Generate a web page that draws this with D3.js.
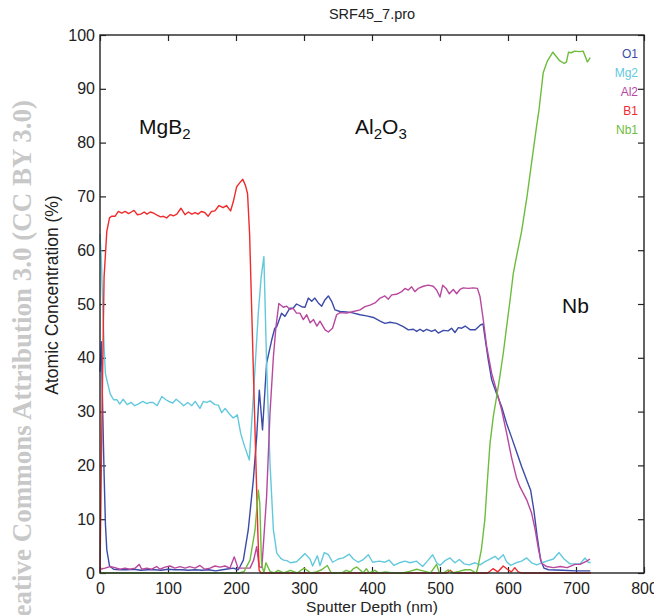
<!DOCTYPE html>
<html>
<head>
<meta charset="utf-8">
<script src="https://cdn.jsdelivr.net/npm/d3@7/dist/d3.min.js"></script>
<style>
  html, body { margin: 0; padding: 0; background: #ffffff; }
  svg { display: block; }
  text { font-family: "Liberation Sans", Arial, sans-serif; }
</style>
</head>
<body>
<svg id="chart" width="654" height="615"></svg>
<script>
// ---------------- DATA (depth nm, atomic concentration %) ----------------
const title = "SRF45_7.pro";
const xTicks = [0, 100, 200, 300, 400, 500, 600, 700, 800];
const yTicks = [0, 10, 20, 30, 40, 50, 60, 70, 80, 90, 100];
const seriesNames = ["O1", "Mg2", "Al2", "B1", "Nb1"];
const seriesColors = ["#3b4ba8", "#62c9dd", "#b8489f", "#ef2b2d", "#6dbd3c"];

const o1 = [[0,37.4],[2,43],[4,30],[6,18.5],[8,9],[10,4.3],[14,1.3],[20,0.7],[30,0.6],[40,0.6],[50,0.7],[60,0.5],[70,0.6],[80,0.6],[90,0.5],[100,0.7],[110,0.6],[120,0.6],[130,0.5],[140,0.6],[150,0.5],[160,0.6],[170,0.4],[180,0.6],[190,0.8],[196,0.9],[203,0.6],[206,1.2],[210.8,2.4],[218,8],[225.5,17.3],[230.4,25.3],[234.3,34],[239,26.6],[245,39],[252.5,43.3],[257,45.5],[260,45.8],[267,48.3],[272,47.7],[279,49.2],[284,49.2],[289,50.0],[296.6,49.5],[301.5,49.4],[306.4,51.1],[311.3,50.5],[316,51.1],[321,50.2],[326,49.6],[331,50.8],[335.8,51.5],[340.7,50.5],[345.6,48.9],[353,48.6],[362.7,48.5],[370,48.4],[382.4,48.0],[392,47.8],[402,47.5],[412,46.8],[419,46.4],[426.5,46.6],[436,46.4],[446,45.8],[453.4,45.2],[460.8,45.3],[465.7,44.9],[470.6,45.3],[475.5,44.9],[480.4,45.3],[487.7,44.9],[492.6,45.2],[497.5,44.6],[505,45.1],[512,45.0],[517,45.5],[522,44.7],[527,45.6],[532,45.5],[537,45.9],[544.6,45.2],[552,45.2],[559.4,46.1],[563.3,46.3],[566,43.9],[571,39.6],[576,35.9],[583,33.4],[590.7,30.9],[598,27.8],[605,25.3],[612.7,22.5],[620,19.8],[627.5,17.3],[633.3,15.4],[638,11.7],[643,6.7],[648,2.4],[653,0.9],[659.3,0.6],[680,0.5],[700,0.4],[721,0.4]];

const mg2 = [[0,63],[2,58],[4,50],[6,42],[8,37],[11,35.4],[15,33.3],[20,32.2],[25,32.2],[29,31.4],[34,32.3],[40,31.3],[46,31.7],[51,31.1],[56,31.4],[63,31.9],[69,31.5],[73,31.7],[78,31.7],[84,31.1],[91,32.8],[97,32.2],[101,31.9],[107,31.6],[112,32.3],[118,31.7],[123,31.1],[129,31.7],[135,31.1],[140,31.9],[147,30.6],[152,31.9],[157,31.7],[162,32.0],[169,31.3],[174,31.2],[179,29.8],[184,30.6],[190,29.6],[196,28.8],[202,29.4],[207,25.9],[213,23.4],[219.6,21.0],[225.5,32.8],[232.8,48.3],[237,55],[241,58.8],[245,39],[250,20.4],[255,8],[260,3.7],[266,2.7],[270,2.4],[275,2.3],[280,1.9],[289,2.1],[301.5,3.6],[308.8,2.6],[312.7,1.3],[319.6,3.2],[323.5,1.4],[329.9,3.8],[335.8,3.4],[342,2.0],[350.5,2.6],[357.8,2.8],[366.7,3.5],[372.5,2.6],[379.9,2.0],[387.2,2.5],[394.6,3.4],[401,2.0],[410.8,2.2],[419.1,2.0],[425,2.4],[432.4,1.4],[440.2,1.9],[448.5,2.2],[455.9,1.9],[465.7,2.2],[474.5,1.2],[481.4,2.2],[489.2,3.4],[495.1,1.9],[500,1.4],[507.4,2.3],[514.7,2.8],[522,1.9],[528.4,2.5],[535.3,1.7],[543.1,1.5],[551.5,1.9],[558.8,1.5],[566.2,2.1],[573.5,2.6],[580.9,3.1],[585.8,2.5],[593.1,3.4],[598,2.1],[604,1.4],[611.8,1.9],[620,2.2],[627.5,2.8],[634.8,1.9],[642.2,1.5],[649.5,1.9],[656.9,2.2],[666.7,2.6],[675,3.8],[682.4,2.6],[691.2,1.7],[698.5,1.7],[705.9,1.7],[713.2,2.8],[718.1,2.0],[721.6,1.9]];

const al2 = [[0,0.7],[7.4,0.9],[14.7,1.2],[22,1.0],[29.4,0.7],[36.8,0.9],[44,0.7],[51.5,0.9],[57.8,1.6],[61.3,0.7],[68.6,0.9],[76,0.7],[83.3,1.2],[88.2,0.7],[95.6,1.1],[103,1.3],[110,0.9],[117.6,1.2],[125,0.9],[132,1.2],[139.7,0.9],[147,1.4],[154,0.7],[161.8,0.9],[169,1.3],[176.5,1.1],[184,1.3],[191,0.9],[197.5,3.0],[203,0.9],[210.8,0.9],[220.6,0.9],[226,2.4],[230.4,4.9],[234,1.2],[238,1.0],[245,14.2],[250,29.7],[255,40.2],[258.8,45.8],[263,50.1],[269.6,49.4],[274.5,49.6],[279.4,49.0],[284,49.2],[289,48.3],[294,48.3],[299,47.1],[304,48.0],[309,46.5],[314,47.1],[319,45.9],[323.5,46.8],[331,45.2],[335.8,44.8],[342,45.5],[348,48.0],[353,48.4],[362.7,48.3],[372.5,48.6],[382.4,48.9],[389.7,49.5],[397,49.8],[404.4,50.2],[412,51.1],[419,51.5],[424,50.9],[429,51.7],[436,51.8],[443.6,52.3],[448.5,52.9],[453.4,52.6],[458.3,53.2],[463,52.3],[468,52.9],[475.5,53.3],[482.8,53.5],[490,53.3],[495,52.6],[500,51.3],[504,53.5],[509,52.9],[513.7,51.9],[519.6,52.7],[524.5,51.9],[529.4,52.7],[534,53.0],[541.7,52.9],[549,53.0],[555,52.9],[558.8,51.4],[563.7,47.0],[568.6,42.1],[576,37.1],[583,34.0],[590.7,30.3],[598,26.0],[605,21.6],[612.7,17.6],[617.6,16.0],[627.5,13.6],[634.8,11.1],[640,8.0],[645,4.3],[649.5,1.8],[657,1.2],[667,1.0],[677,1.2],[687,1.0],[698.5,1.6],[706,1.6],[715.7,2.2],[720.6,2.6]];

const b1 = [[0,0],[3,30],[6,55],[10,63.5],[14,66],[17,66.3],[22,66.3],[27,67.2],[32,66.9],[37,67.2],[42,66.8],[46,67.1],[50,67.4],[55,66.6],[60,66.7],[65,67.1],[69,66.7],[74,67.1],[79,66.9],[84,66.5],[89,66.2],[93,66.3],[98,66.0],[103,66.6],[108,66.4],[113,66.7],[119,67.8],[125,66.6],[130,67.1],[135,66.7],[140,67.0],[144,66.7],[149,67.2],[154,67.0],[159,66.3],[164,67.2],[169,67.3],[175,68.3],[181,67.9],[186,68.3],[192,67.3],[196,69.0],[201,71.8],[206,72.6],[210,73.2],[214,72.0],[217,70.5],[220,63],[227,31],[232,8],[234,0.5],[237,0],[510,0],[515,0.5],[520,0],[570,0],[578,0.8],[585,0.2],[593,1.3],[600,0.6],[605,0.2],[610,1.0],[615,0.2],[620,0],[722,0]];

const nb1 = [[0,0],[205,0],[212,0.3],[220.6,2.4],[228,8],[232.8,15.4],[235,13],[237.5,1.8],[241,0],[244,1.9],[250,0.3],[256,0],[262,0.5],[270,0],[280,0.5],[290,0],[300,0.9],[310,0],[318,0.2],[326,0.6],[334.3,1.4],[340,0],[355,0],[362,0.5],[368,0.2],[372.5,0.8],[377.4,1.1],[383,0.5],[387,0],[391.6,0.8],[396,0],[404.4,0.5],[410,0],[420,0.2],[430,0],[445,0],[455,0.3],[465.7,0.7],[472,0.5],[478,0.3],[486,0],[495,1.6],[499,0],[505,0],[512,0.6],[518,0],[528,0.3],[536.7,0.6],[545,0.6],[553.4,0],[556,1.2],[561,4.5],[566,10],[569.6,17],[573.5,24],[578.4,29.1],[583.3,32.8],[588,36.5],[593,40.8],[598,45.8],[603,50.7],[607.8,55.7],[612,58.5],[620,63.5],[628,70],[636,77.5],[642,83],[645.6,86.1],[651.8,93],[658,95.2],[666,96.8],[670.4,96.1],[675.3,95.3],[682.7,94.7],[686,95],[689,96.8],[693,96.7],[698,97.0],[705.6,96.9],[710.6,97.0],[716.8,95.0],[721,95.8]];

const seriesData = [o1, mg2, al2, b1, nb1];

// ---------------- CHART ----------------
const svg = d3.select("#chart");
const W = 654, H = 615;
const margin = {left: 100, right: 10, top: 35, bottom: 42};
const x = d3.scaleLinear().domain([0, 800]).range([margin.left, W - margin.right]);
const y = d3.scaleLinear().domain([0, 100]).range([H - margin.bottom, margin.top]);

// watermark
svg.append("text")
  .attr("transform", `translate(31,100) rotate(-90)`)
  .attr("text-anchor", "end")
  .style("font-family", "'Liberation Serif', 'Times New Roman', serif")
  .style("font-weight", "bold")
  .style("font-size", "27px")
  .attr("fill", "#c8c8c8")
  .text("Creative Commons Attribution 3.0 (CC BY 3.0)");

// title
svg.append("text")
  .attr("x", (x(0) + x(800)) / 2).attr("y", 19)
  .attr("text-anchor", "middle")
  .style("font-size", "14.5px")
  .attr("fill", "#222")
  .text(title);

// axes
const axisFont = g => g.selectAll("text").style("font-size", "16px").attr("fill", "#222")
  .style("font-family", "'Liberation Sans', Arial, sans-serif");

svg.append("g").attr("transform", `translate(0,${y(0)})`)
  .call(d3.axisBottom(x).tickValues(xTicks).tickSizeInner(-6).tickSizeOuter(0).tickPadding(10))
  .call(g => g.select(".domain").remove())
  .call(g => g.selectAll("line").attr("stroke", "#222").attr("stroke-width", 1.2))
  .call(axisFont);

svg.append("g").attr("transform", `translate(${x(0)},0)`)
  .call(d3.axisLeft(y).tickValues(yTicks).tickSizeInner(-6).tickSizeOuter(0).tickPadding(5))
  .call(g => g.select(".domain").remove())
  .call(g => g.selectAll("line").attr("stroke", "#222").attr("stroke-width", 1.2))
  .call(axisFont);

svg.append("g").attr("transform", `translate(0,${y(100)})`)
  .call(d3.axisTop(x).tickValues(xTicks).tickSizeInner(-6).tickSizeOuter(0).tickFormat(""))
  .call(g => g.select(".domain").remove())
  .call(g => g.selectAll("line").attr("stroke", "#222").attr("stroke-width", 1.2));

svg.append("g").attr("transform", `translate(${x(800)},0)`)
  .call(d3.axisRight(y).tickValues(yTicks).tickSizeInner(-6).tickSizeOuter(0).tickFormat(""))
  .call(g => g.select(".domain").remove())
  .call(g => g.selectAll("line").attr("stroke", "#222").attr("stroke-width", 1.2));

// axis titles
svg.append("text")
  .attr("x", (x(0) + x(800)) / 2).attr("y", 612)
  .attr("text-anchor", "middle")
  .style("font-size", "15.5px").attr("fill", "#222")
  .text("Sputter Depth (nm)");

svg.append("text")
  .attr("transform", `translate(58,295) rotate(-90)`)
  .attr("text-anchor", "middle")
  .style("font-size", "17.5px").attr("fill", "#222")
  .text("Atomic Concentration (%)");

// lines
const line = d3.line().x(d => x(d[0])).y(d => y(d[1]));
seriesData.forEach((s, i) => {
  svg.append("path")
    .datum(s)
    .attr("d", line)
    .attr("fill", "none")
    .attr("stroke", seriesColors[i])
    .attr("stroke-width", 1.4)
    .attr("stroke-linejoin", "round");
});

// frame
svg.append("rect")
  .attr("x", x(0)).attr("y", y(100))
  .attr("width", x(800) - x(0)).attr("height", y(0) - y(100))
  .attr("fill", "none").attr("stroke", "#222").attr("stroke-width", 1.4);

// legend
seriesNames.forEach((n, i) => {
  svg.append("text")
    .attr("x", 638).attr("y", 57.5 + i * 19)
    .attr("text-anchor", "end")
    .style("font-size", "12px")
    .attr("fill", seriesColors[i])
    .text(n);
});

// region annotations
function label(xp, yp, base, sub, tail) {
  const t = svg.append("text").attr("x", xp).attr("y", yp)
    .style("font-size", "21px").attr("fill", "#111");
  t.append("tspan").text(base);
  if (sub) {
    t.append("tspan").attr("dy", 5).style("font-size", "15px").text(sub);
    if (tail) {
      t.append("tspan").attr("dy", -5).text(tail[0]);
      t.append("tspan").attr("dy", 5).style("font-size", "15px").text(tail[1]);
    }
  }
}
label(139, 134, "MgB", "2");
label(355, 134, "Al", "2", ["O", "3"]);
label(562, 313, "Nb");
</script>
</body>
</html>
